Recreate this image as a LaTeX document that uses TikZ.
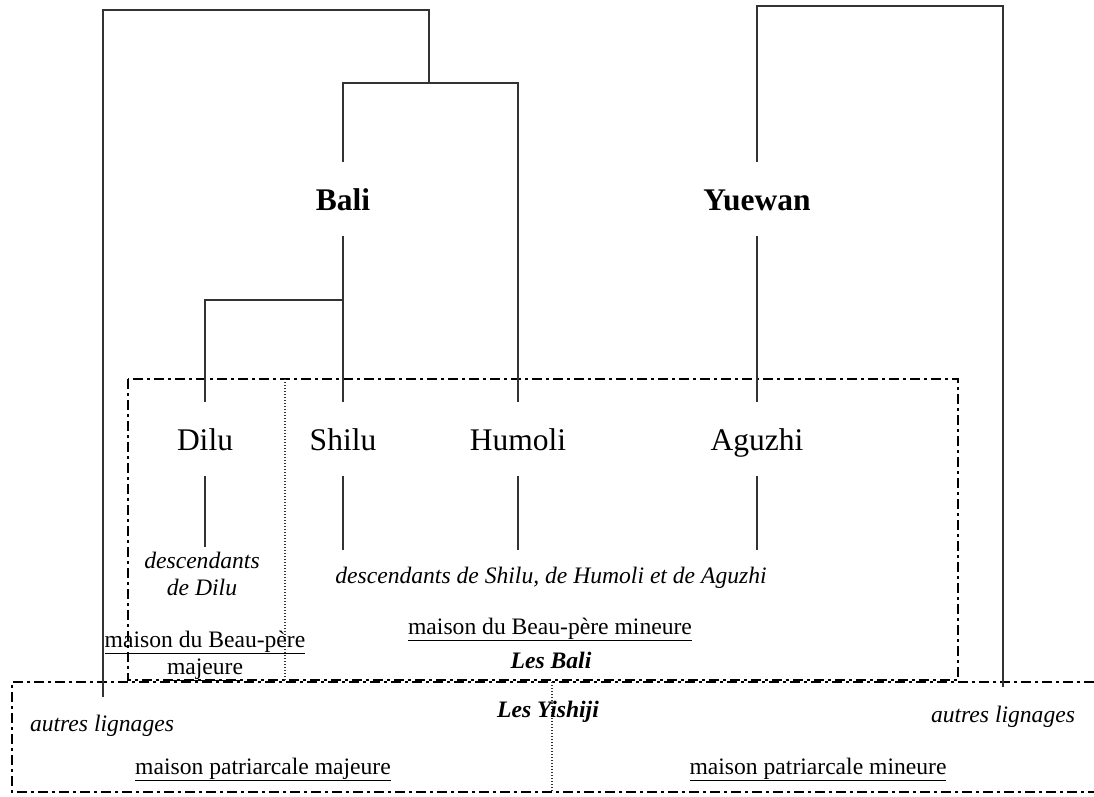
\documentclass[tikz,border=0pt]{standalone}
\usepackage{fontspec}
\setmainfont{Liberation Serif}
\begin{document}
\begin{tikzpicture}[x=1pt,y=-1pt,
  conn/.style={line width=1.5pt, draw=black!80},
  big/.style={font=\fontsize{31.5}{36}\selectfont, text height=30pt, text depth=8pt, inner ysep=18pt, inner xsep=0pt, anchor=base},
  bigb/.style={big, font=\fontsize{31.5}{36}\selectfont\bfseries},
  small/.style={font=\fontsize{23.6}{27}\selectfont, inner sep=0pt},
  smallit/.style={small, font=\fontsize{23.6}{27}\selectfont\itshape},
  smallbi/.style={small, font=\fontsize{23.6}{27}\selectfont\bfseries\itshape},
  dashdotline/.style={line width=2.2pt, draw=black, dash pattern=on 10pt off 4pt on 3pt off 4pt},
  dotline/.style={line width=1.2pt, draw=black!80, dash pattern=on 1.2pt off 1.8pt}
]
\useasboundingbox (0,0) rectangle (1094,796);

% group boxes
\draw[dashdotline] (128,379) rectangle (958,680);
\draw[dotline] (285,379) -- (285,680);
\draw[dashdotline] (1094,682) -- (12,682) -- (12,792) -- (1094,792);
\draw[dotline] (552,682) -- (552,792);

% names
\node[bigb] (bali) at (343,210) {Bali};
\node[bigb] (yue) at (757,210) {Yuewan};
\node[big] (dilu) at (205,450) {Dilu};
\node[big] (shilu) at (343,450) {Shilu};
\node[big] (hum) at (518,450) {Humoli};
\node[big] (agu) at (757,450) {Aguzhi};

% junctions and free ends
\coordinate (top) at (429,10);
\coordinate (j1) at (429,83);
\coordinate (j2) at (343,300);
\coordinate (lbot) at (103,697);
\coordinate (rtop) at (1003,6);
\coordinate (rbot) at (1003,687);
\coordinate (dd) at (205,547);
\coordinate (ds) at (343,550);
\coordinate (dh) at (518,550);
\coordinate (da) at (757,550);

% connectors
\draw[conn] (lbot) |- (top) -- (j1);
\draw[conn] (bali.north) |- (j1) -| (hum.north);
\draw[conn] (bali.south) -- (shilu.north);
\draw[conn] (dilu.north) |- (j2);
\draw[conn] (yue.north) |- (rtop) -- (rbot);
\draw[conn] (yue.south) -- (agu.north);
\draw[conn] (dilu.south) -- (dd);
\draw[conn] (shilu.south) -- (ds);
\draw[conn] (hum.south) -- (dh);
\draw[conn] (agu.south) -- (da);

% texts
\node[smallit, align=center] (descd) at (202,574) {descendants\\de Dilu};
\node[smallit, anchor=base] (desca) at (551,583) {descendants de Shilu, de Humoli et de Aguzhi};
\node[small, align=center] (mbpmaj) at (205,656) {\underline{maison du Beau-père}\\\underline{majeure}};
\node[small, anchor=base] (mbpmin) at (550,634) {\underline{maison du Beau-père mineure}};
\node[smallbi, anchor=base] (lesbali) at (551,668) {Les Bali};
\node[smallbi, anchor=base] (lesyi) at (548,717) {Les Yishiji};
\node[smallit, anchor=base] (autl) at (102,731) {autres lignages};
\node[smallit, anchor=base] (autr) at (1003,722) {autres lignages};
\node[small, anchor=base] (mpmaj) at (263,774) {\underline{maison patriarcale majeure}};
\node[small, anchor=base] (mpmin) at (818,774) {\underline{maison patriarcale mineure}};
\end{tikzpicture}
\end{document}
